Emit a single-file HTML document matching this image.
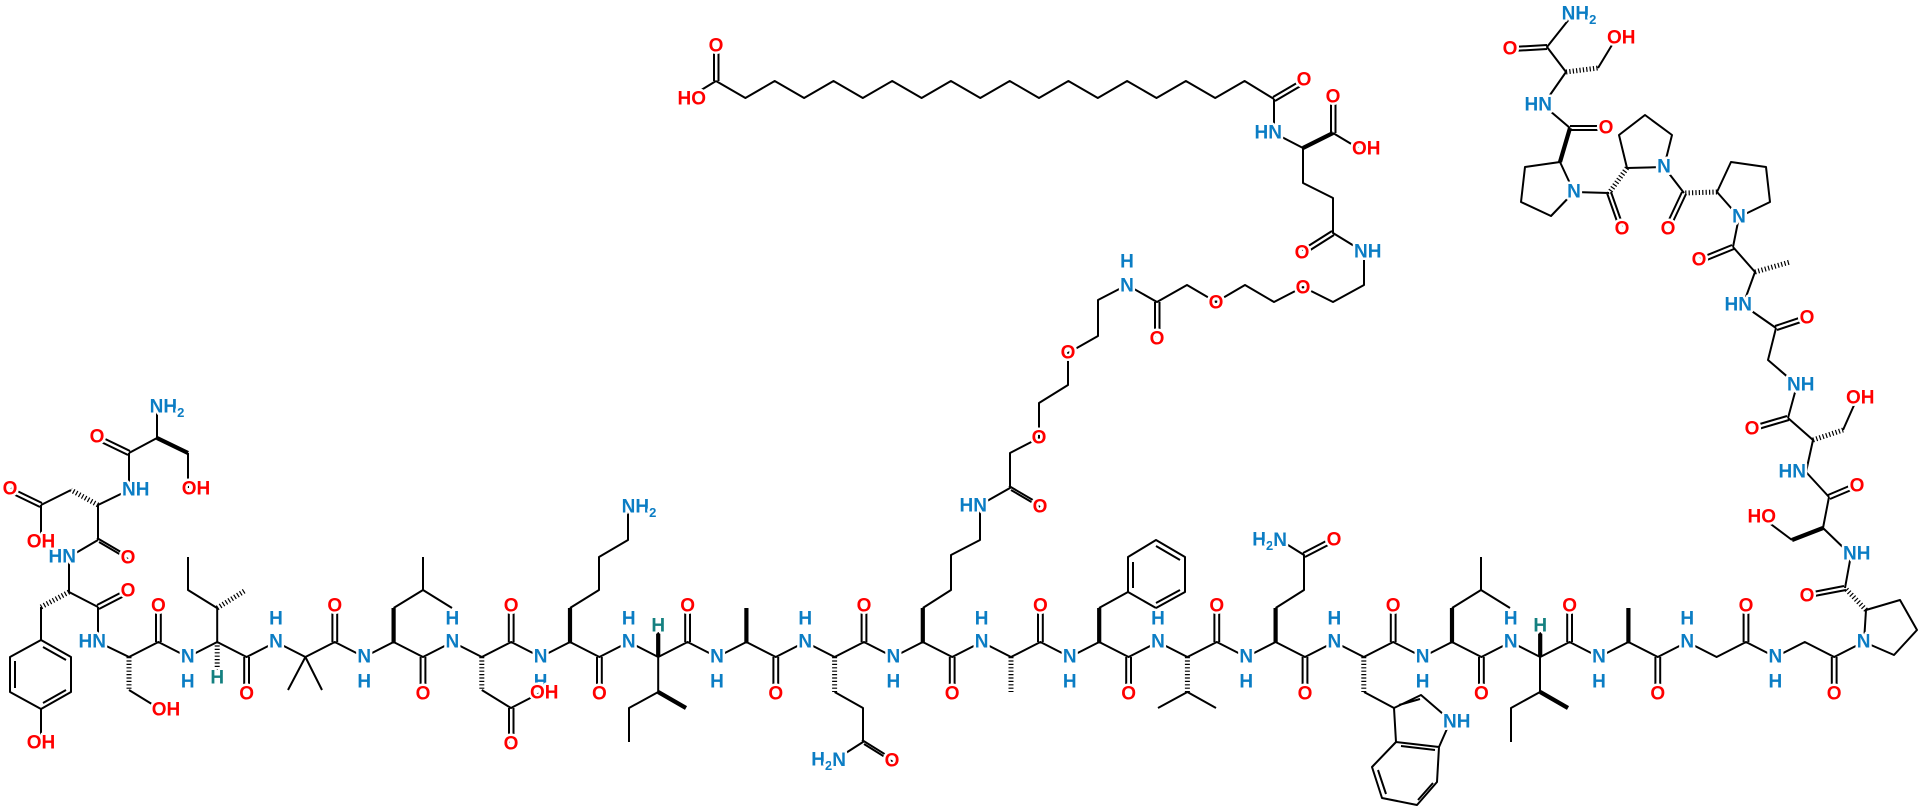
<!DOCTYPE html>
<html><head><meta charset="utf-8"><style>
html,body{margin:0;padding:0;background:#fff;}
svg{display:block}
.b{stroke:#000;stroke-width:2;fill:none;stroke-linejoin:round}
.w{stroke:#000;stroke-width:4.2}
.h{stroke:#000;stroke-width:5;stroke-dasharray:1.2 2.2}
text{font-family:"Liberation Sans",Arial,sans-serif;font-size:19px;font-weight:bold;paint-order:stroke;stroke:#fff;stroke-width:5px;stroke-linejoin:round;dominant-baseline:central;text-anchor:middle}
.o{fill:#ff0000}.n{fill:#0b7dc4}.t{fill:#148080}
.s{text-anchor:start}.e{text-anchor:end}
</style></head><body>
<svg width="1920" height="811" viewBox="0 0 1920 811" xmlns="http://www.w3.org/2000/svg">
<polyline class="b" points="98,642 129,657 158.4,642 187.8,657 217.2,642 246.6,657 276,642 305.4,657 334.8,642 364.2,657 393.6,642 423,657 452.4,642 481.8,657 511.2,642 540.6,657 570,642 599.4,657 628.8,642 658.2,657 687.6,642 717,657 746.4,642 775.8,657 805.2,642 834.6,657 864,642 893.4,657 922.8,642 952.2,657 981.6,642 1011,657 1040.4,642 1069.8,657 1099.2,642 1128.6,657 1158,642 1187.4,657 1216.8,642 1246.2,657 1275.6,642 1305,657 1334.4,642 1363.8,657 1393.2,642 1422.6,657 1452,642 1481.4,657 1510.8,642 1540.2,657 1569.6,642 1599,657 1628.4,642 1657.8,657 1687.2,642 1716.6,657 1746,642 1775.4,657 1804.8,642 1834.2,657 1863.6,642"/>
<g class="b">
<path d="M156,642V612M160.8,642V612 M332.4,642V612M337.2,642V612 M508.8,642V612M513.6,642V612 M685.2,642V612M690,642V612 M861.6,642V612M866.4,642V612 M1038,642V612M1042.8,642V612 M1214.4,642V612M1219.2,642V612 M1390.8,642V612M1395.6,642V612 M1567.2,642V612M1572,642V612 M1743.6,642V612M1748.4,642V612"/>
<path d="M244.2,657V687M249,657V687 M420.6,657V687M425.4,657V687 M597,657V687M601.8,657V687 M773.4,657V687M778.2,657V687 M949.8,657V687M954.6,657V687 M1126.2,657V687M1131,657V687 M1302.6,657V687M1307.4,657V687 M1479,657V687M1483.8,657V687 M1655.4,657V687M1660.2,657V687 M1831.8,657V687M1836.6,657V687"/>
</g>
<g class="b">
<path d="M98,642V607 M97,605L126,590M99,609L128,594 M98,607L69,592 M69,592V557 M69,557L98,540 M97,538L126,555M99,542L128,559 M98,540V505"/>
<path d="M71,490L41,505 M42,503L11,488M40,507L9,492 M41,505V540"/>
<path d="M98,505L129,490 M129,490V453 M130,451L99,436M128,455L97,440 M129,453L157,438 M157,438V408 M188,453V488"/>
<path d="M41,607V640 M41,640L10,657V692L41,709L71,692V657Z M41,709V743 M15,661V688 M43,703L66,690 M66,660L43,647"/>
<path d="M129,690L155,706"/>
<path d="M217,608L188,590V557"/>
<path d="M305.4,657L288,690 M305.4,657L322,690"/>
<path d="M393.6,608L423,590V557 M423,590L452,608"/>
<path d="M481.8,690L511,708L540,693 M509,708V743M513.5,708V743"/>
<path d="M570,608L599,590V557L628,540V510"/>
<path d="M658.2,657V692L629,708V742"/>
<path d="M834.6,692L863,708V742L838,758 M862,740L891,758M864,744L893,762"/>
<path d="M1099,608L1128,592 M1128,592V557L1156,540L1185,557V592L1156,608Z M1133,562V588 M1156,546L1180,560 M1180,590L1156,603"/>
<path d="M1187.4,692L1158,708 M1187.4,692L1216,708"/>
<path d="M1275.6,608L1304,590V555L1280,540 M1303,553L1332,538M1305,557L1334,542"/>
<path d="M1364,692L1394,708L1421,695L1450,720 M1394,708L1396,742L1439,747L1450,722 M1396,742L1372,767L1382,798L1417,805L1437,782L1439,747 M1399,705L1420,699 M1378,770L1386,794 M1418,800L1433,783 M1401,746L1435,750"/>
<path d="M1452,608L1481,590V557 M1481,590L1510,608"/>
<path d="M1540,657V692L1511,708V742"/>
<path d="M1864,642L1866,610L1900,600L1917,630L1894,655Z"/>
</g>
<line class="h" x1="69" y1="592" x2="41" y2="607"/>
<line class="h" x1="98" y1="505" x2="71" y2="490"/>
<line class="w" x1="157" y1="438" x2="188" y2="453"/>
<line class="h" x1="129" y1="657" x2="129" y2="690"/>
<line class="b" x1="217.2" y1="642" x2="217.2" y2="608"/>
<line class="h" x1="217.2" y1="608" x2="246" y2="590"/>
<line class="h" x1="217.2" y1="642" x2="217.2" y2="670"/>
<line class="w" x1="393.6" y1="642" x2="393.6" y2="608"/>
<line class="h" x1="481.8" y1="657" x2="481.8" y2="690"/>
<line class="w" x1="570" y1="642" x2="570" y2="608"/>
<line class="w" x1="658.2" y1="657" x2="658.2" y2="632"/>
<line class="w" x1="658.2" y1="692" x2="686" y2="708"/>
<line class="w" x1="746.4" y1="642" x2="746.4" y2="608"/>
<line class="h" x1="834.6" y1="657" x2="834.6" y2="692"/>
<line class="w" x1="922.8" y1="642" x2="922.8" y2="608"/>
<line class="h" x1="1011" y1="657" x2="1011" y2="692"/>
<line class="w" x1="1099.2" y1="642" x2="1099.2" y2="608"/>
<line class="h" x1="1187.4" y1="657" x2="1187.4" y2="692"/>
<line class="w" x1="1275.6" y1="642" x2="1275.6" y2="608"/>
<line class="h" x1="1363.8" y1="657" x2="1363.8" y2="692"/>
<line class="w" x1="1452" y1="642" x2="1452" y2="608"/>
<line class="w" x1="1540.2" y1="657" x2="1540.2" y2="632"/>
<line class="w" x1="1540.2" y1="692" x2="1568" y2="708"/>
<line class="w" x1="1628.4" y1="642" x2="1628.4" y2="608"/>
<g class="b">
<path d="M922.8,608L951,590V555L980,540V505 L1010,488V453L1039,438V403L1068,385V353L1098,336V300L1127,285L1157,302L1187,285L1216,302L1245,285L1274,302L1303,287L1333,302L1364,285V252L1333,233V198L1303,183V148 L1274,133V99"/>
<path d="M1009,486L1038,503M1011,490L1040,507 M1155,302V337M1159.5,302V337 M1334,235L1304,254M1332,231L1302,250 M1331,133V99M1335.5,133V99 M1273,97L1302,80M1275,101L1304,84 M714,81V48M718.5,81V48 M716,81L698,92"/>
<polyline points="716,81 745.4,98 774.7,81 804.1,98 833.5,81 862.8,98 892.2,81 921.6,98 950.9,81 980.3,98 1009.7,81 1039,98 1068.4,81 1097.8,98 1127.1,81 1156.5,98 1185.9,81 1215.2,98 1244.6,81 1274,99"/>
</g>
<line class="w" x1="1303" y1="148" x2="1333" y2="133"/>
<line class="b" x1="1333" y1="133" x2="1358" y2="148"/>
<g class="b">
<path d="M1845,588L1851,555 M1844,586L1808,593M1846,590L1809,597 M1851,555L1823,528L1829,497 M1828,495L1854,484M1830,499L1856,488 M1829,497L1806,472L1813,440 M1813,440L1788,418 M1787,416L1753,426M1789,420L1755,430 M1788,418L1797,385L1768,360L1776,328 M1775,326L1805,316M1777,330L1807,320 M1776,328L1743,305L1755,272L1733,247 M1732,245L1700,258M1734,249L1702,262 M1733,247L1739,217"/>
<path d="M1739,217L1717,192L1731,162L1766,167L1770,202Z M1684,193L1664,167 M1682,192L1666,226M1686,194L1670,228"/>
<path d="M1664,167L1627,168L1619,135L1645,115L1672,135Z M1609,193L1574,192 M1607,193L1619,227M1611,192L1623,226"/>
<path d="M1574,192L1560,162L1525,167L1521,202L1551,216Z M1570,128L1543,105L1566,72L1547,47L1570,18 M1570,126H1603M1570,130H1603 M1547,45L1512,47M1547,49L1512,51 M1598,68L1615,40"/>
<path d="M1843,430L1855,403 M1792,540L1768,522"/>
</g>
<line class="h" x1="1866" y1="610" x2="1845" y2="588"/>
<line class="w" x1="1823" y1="528" x2="1792" y2="540"/>
<line class="h" x1="1813" y1="440" x2="1843" y2="430"/>
<line class="h" x1="1755" y1="272" x2="1790" y2="262"/>
<line class="h" x1="1717" y1="192" x2="1684" y2="193"/>
<line class="h" x1="1627" y1="168" x2="1609" y2="193"/>
<line class="w" x1="1560" y1="162" x2="1570" y2="128"/>
<line class="h" x1="1566" y1="72" x2="1598" y2="68"/>

<g class="o">
<text x="158.4" y="606">O</text><text x="334.8" y="606">O</text><text x="511.2" y="606">O</text><text x="687.6" y="606">O</text><text x="864" y="606">O</text><text x="1040.4" y="606">O</text><text x="1216.8" y="606">O</text><text x="1393.2" y="606">O</text><text x="1569.6" y="606">O</text><text x="1746" y="606">O</text>
<text x="246.6" y="694">O</text><text x="423" y="694">O</text><text x="599.4" y="694">O</text><text x="775.8" y="694">O</text><text x="952.2" y="694">O</text><text x="1128.6" y="694">O</text><text x="1305" y="694">O</text><text x="1481.4" y="694">O</text><text x="1657.8" y="694">O</text><text x="1834.2" y="694">O</text>
</g>
<g class="n">
<text x="187.8" y="657">N</text><text x="187.8" y="682">H</text>
<text x="276" y="642">N</text><text x="276" y="619">H</text>
<text x="364.2" y="657">N</text><text x="364.2" y="682">H</text>
<text x="452.4" y="642">N</text><text x="452.4" y="619">H</text>
<text x="540.6" y="657">N</text><text x="540.6" y="682">H</text>
<text x="628.8" y="642">N</text><text x="628.8" y="619">H</text>
<text x="717" y="657">N</text><text x="717" y="682">H</text>
<text x="805.2" y="642">N</text><text x="805.2" y="619">H</text>
<text x="893.4" y="657">N</text><text x="893.4" y="682">H</text>
<text x="981.6" y="642">N</text><text x="981.6" y="619">H</text>
<text x="1069.8" y="657">N</text><text x="1069.8" y="682">H</text>
<text x="1158" y="642">N</text><text x="1158" y="619">H</text>
<text x="1246.2" y="657">N</text><text x="1246.2" y="682">H</text>
<text x="1334.4" y="642">N</text><text x="1334.4" y="619">H</text>
<text x="1422.6" y="657">N</text><text x="1422.6" y="682">H</text>
<text x="1510.8" y="642">N</text><text x="1510.8" y="619">H</text>
<text x="1599" y="657">N</text><text x="1599" y="682">H</text>
<text x="1687.2" y="642">N</text><text x="1687.2" y="619">H</text>
<text x="1775.4" y="657">N</text><text x="1775.4" y="682">H</text>
<text x="1863.6" y="642">N</text>
</g>
<g class="t"><text x="217.2" y="678">H</text><text x="658.2" y="626">H</text><text x="1540.2" y="626">H</text></g>
<text class="n e" x="106" y="642">HN</text>
<text class="o" x="128" y="591">O</text>
<text class="n e" x="76" y="557">HN</text>
<text class="o" x="128" y="558">O</text>
<text class="o" x="10" y="489">O</text>
<text class="o" x="41" y="542">OH</text>
<text class="n s" x="122" y="490">NH</text>
<text class="o" x="97" y="437">O</text>
<text class="n" x="167" y="407">NH<tspan font-size="13" dy="5">2</tspan></text>
<text class="o" x="196" y="489">OH</text>
<text class="o" x="41" y="743">OH</text>
<text class="o" x="166" y="710">OH</text>
<text class="o s" x="530" y="693">OH</text>
<text class="o" x="511" y="744">O</text>
<text class="n" x="639" y="507">NH<tspan font-size="13" dy="5">2</tspan></text>
<text class="o" x="892" y="761">O</text>
<text class="n e" x="846" y="760">H<tspan font-size="13" dy="5">2</tspan><tspan dy="-5">N</tspan></text>
<text class="o" x="1334" y="540">O</text>
<text class="n e" x="1287" y="540">H<tspan font-size="13" dy="5">2</tspan><tspan dy="-5">N</tspan></text>
<text class="n s" x="1443" y="722">NH</text>
<text class="n e" x="987" y="506">HN</text>
<text class="o" x="1040" y="507">O</text>
<text class="o" x="1039" y="438">O</text>
<text class="o" x="1068" y="353">O</text>
<text class="n" x="1127" y="286">N</text><text class="n" x="1127" y="262">H</text>
<text class="o" x="1157" y="339">O</text>
<text class="o" x="1216" y="303">O</text>
<text class="o" x="1303" y="288">O</text>
<text class="n s" x="1354" y="252">NH</text>
<text class="o" x="1302" y="253">O</text>
<text class="o" x="1333" y="97">O</text>
<text class="o s" x="1352" y="149">OH</text>
<text class="n e" x="1282" y="133">HN</text>
<text class="o" x="1304" y="80">O</text>
<text class="o" x="716" y="46">O</text>
<text class="o e" x="706" y="99">HO</text>
<text class="o" x="1807" y="596">O</text>
<text class="n s" x="1843" y="554">NH</text>
<text class="o e" x="1776" y="517">HO</text>
<text class="o" x="1857" y="486">O</text>
<text class="n e" x="1806" y="472">HN</text>
<text class="o s" x="1846" y="398">OH</text>
<text class="o" x="1752" y="429">O</text>
<text class="n s" x="1787" y="385">NH</text>
<text class="o" x="1807" y="318">O</text>
<text class="n e" x="1752" y="305">HN</text>
<text class="o" x="1699" y="260">O</text>
<text class="n" x="1739" y="217">N</text>
<text class="o" x="1668" y="229">O</text>
<text class="n" x="1664" y="167">N</text>
<text class="o" x="1622" y="229">O</text>
<text class="n" x="1574" y="192">N</text>
<text class="o" x="1606" y="128">O</text>
<text class="n e" x="1552" y="105">HN</text>
<text class="o s" x="1607" y="38">OH</text>
<text class="o" x="1510" y="49">O</text>
<text class="n" x="1579" y="14">NH<tspan font-size="13" dy="5">2</tspan></text>
</svg>
</body></html>
